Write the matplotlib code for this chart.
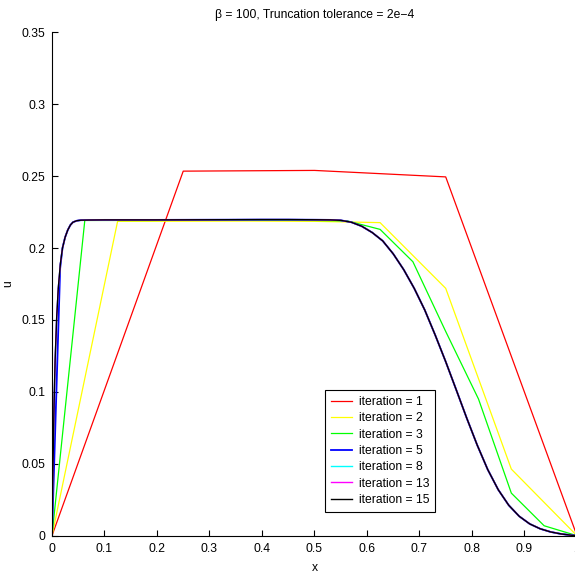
import matplotlib
matplotlib.use('Agg')
import matplotlib.pyplot as plt

plt.rcParams['font.family'] = ['Liberation Sans', 'DejaVu Sans']

TITLE = '\u03b2 = 100, Truncation tolerance = 2e\u22124'

# iteration 1: 5 nodes
x_it1 = [0.0, 0.25, 0.5, 0.75, 1.0]
u_it1 = [0.0, 0.2535, 0.2540, 0.2495, 0.0]

# iteration 2: 9 nodes
x_it2 = [0.0, 0.125, 0.25, 0.375, 0.5, 0.625, 0.75, 0.875, 1.0]
u_it2 = [0.0, 0.2186, 0.2187, 0.2188, 0.2186, 0.2177, 0.1720, 0.0463, 0.0]

# iteration 3: 17 nodes
x_it3 = [0.0, 0.0625, 0.125, 0.1875, 0.25, 0.3125, 0.375, 0.4375, 0.5,
         0.5625, 0.625, 0.6875, 0.75, 0.8125, 0.875, 0.9375, 1.0]
u_it3 = [0.0, 0.2192, 0.2192, 0.2192, 0.2193, 0.2193, 0.2193, 0.2193, 0.2192,
         0.2189, 0.2130, 0.1905, 0.1420, 0.0950, 0.0296, 0.0069, 0.0]

# converged curve (iterations 8, 13, 15)
x_fine = [0.0, 0.002, 0.004, 0.006, 0.009, 0.012, 0.016, 0.02, 0.025, 0.03,
          0.035, 0.04, 0.047, 0.055, 0.07, 0.1, 0.2, 0.3, 0.4, 0.45, 0.5,
          0.53, 0.55, 0.57, 0.59, 0.61, 0.63, 0.65, 0.67, 0.69, 0.71, 0.73,
          0.75, 0.77, 0.79, 0.81, 0.83, 0.85, 0.87, 0.89, 0.91, 0.93, 0.95,
          0.97, 0.99, 1.0]
u_fine = [0.0, 0.050, 0.092, 0.122, 0.152, 0.172, 0.189, 0.200, 0.2075, 0.2125,
          0.2160, 0.2180, 0.2190, 0.2194, 0.2195, 0.2196, 0.2196, 0.2197, 0.2198,
          0.2198, 0.2197, 0.2196, 0.2193, 0.2180, 0.2152, 0.2108, 0.2050, 0.1960,
          0.1850, 0.1720, 0.1570, 0.1395, 0.1210, 0.1015, 0.0818, 0.0630, 0.0460,
          0.0320, 0.0212, 0.0135, 0.0082, 0.0048, 0.0026, 0.0012, 0.0003, 0.0]

# iteration 5: coarser first step near x = 0, same curve afterwards
x_it5 = [0.0, 0.0156] + x_fine[7:]
u_it5 = [0.0, 0.186] + u_fine[7:]

series = [
    ('iteration = 1', x_it1, u_it1, '#ff0000', 0.9),
    ('iteration = 2', x_it2, u_it2, '#ffff00', 0.9),
    ('iteration = 3', x_it3, u_it3, '#00ff00', 0.9),
    ('iteration = 5', x_it5, u_it5, '#0000ff', 1.3),
    ('iteration = 8', x_fine, u_fine, '#00ffff', 1.0),
    ('iteration = 13', x_fine, u_fine, '#ff00ff', 1.0),
    ('iteration = 15', x_fine, u_fine, '#000000', 1.0),
]

fig = plt.figure(figsize=(5.75, 5.78), dpi=100)
ax = fig.add_axes([0.0904, 0.0732, 0.913, 0.8708])

for label, xs, us, col, lw in series:
    ax.plot(xs, us, color=col, linewidth=lw, label=label)

ax.set_xlim(0, 1)
ax.set_ylim(0, 0.35)
ax.set_xticks([0, 0.1, 0.2, 0.3, 0.4, 0.5, 0.6, 0.7, 0.8, 0.9, 1])
ax.set_xticklabels(['0', '0.1', '0.2', '0.3', '0.4', '0.5', '0.6', '0.7', '0.8', '0.9', '1'])
ax.set_yticks([0, 0.05, 0.1, 0.15, 0.2, 0.25, 0.3, 0.35])
ax.set_yticklabels(['0', '0.05', '0.1', '0.15', '0.2', '0.25', '0.3', '0.35'])
ax.tick_params(direction='in', length=4, width=0.8, labelsize=8.7, pad=5)
ax.spines['top'].set_visible(False)
ax.spines['right'].set_visible(False)
ax.spines['left'].set_linewidth(0.8)
ax.spines['bottom'].set_linewidth(0.8)

ax.set_xlabel('x', fontsize=8.7, labelpad=5)
ax.set_ylabel('u', fontsize=8.7, labelpad=5)
ax.set_title(TITLE, fontsize=8.7, pad=10)

leg = ax.legend(loc='lower left', bbox_to_anchor=(0.52, 0.047), borderaxespad=0,
                fontsize=8.7, fancybox=False, framealpha=1, edgecolor='k',
                handlelength=1.7, labelspacing=0.36, borderpad=0.5,
                handletextpad=0.6)
leg.get_frame().set_linewidth(0.8)

fig.savefig('out.png', dpi=100)
